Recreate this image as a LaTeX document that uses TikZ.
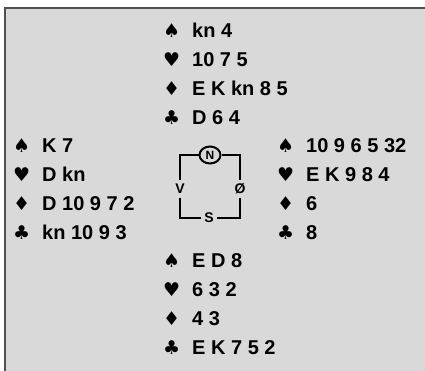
\documentclass[tikz,border=0pt]{standalone}
\usepackage{fontspec}
\setmainfont{Liberation Sans}
\newfontfamily\suitfont{DejaVu Sans}
\usetikzlibrary{shapes.geometric}
\definecolor{bggray}{HTML}{D9D9D9}
\definecolor{framegray}{HTML}{505050}
\newcommand{\suit}[1]{\makebox[29pt][l]{\suitfont\fontsize{19}{29}\selectfont #1}}
\tikzstyle{hand} = [anchor=base west, align=left, inner sep=0pt, font=\fontsize{20}{29}\selectfont\bfseries]
\tikzstyle{compass} = [inner sep=3.5pt, font=\fontsize{14}{14}\selectfont\bfseries]
\tikzstyle{wire} = [line width=2.2pt]

\begin{document}
\begin{tikzpicture}[x=1pt,y=-1pt]
    \useasboundingbox (0,0) rectangle (425,371);
    \fill[bggray] (5,8) rectangle (425,371);
    \draw[line width=2pt, framegray] (5,371) -- (5,8) -- (425,8);
    % hands (anchored at the baseline of the last line)
    \node[hand] (north) at (163,124.5) {\suit{♠}kn 4\\ \suit{♥}10 7 5\\ \suit{♦}E K kn 8 5\\ \suit{♣}D 6 4};
    \node[hand] (west) at (13,239.5) {\suit{♠}K 7\\ \suit{♥}D kn\\ \suit{♦}D 10 9 7 2\\ \suit{♣}kn 10 9 3};
    \node[hand] (east) at (277,239.5) {\suit{♠}10 9 6 5 32\\ \suit{♥}E K 9 8 4\\ \suit{♦}6\\ \suit{♣}8};
    \node[hand] (south) at (163,354.5) {\suit{♠}E D 8\\ \suit{♥}6 3 2\\ \suit{♦}4 3\\ \suit{♣}E K 7 5 2};
    % compass
    \node[ellipse, draw, line width=2pt, minimum width=21pt, minimum height=17pt, inner sep=0pt, font=\fontsize{12}{12}\selectfont\bfseries] (N) at (210,155) {N};
    \node[compass] (V) at (180,189) {V};
    \node[compass] (O) at (240,189) {Ø};
    \node[compass] (S) at (209,218) {S};
    \draw[wire] (N.west) -| (V.north);
    \draw[wire] (V.south) |- (S.west);
    \draw[wire] (S.east) -| (O.south);
    \draw[wire] (O.north) |- (N.east);
\end{tikzpicture}
\end{document}
